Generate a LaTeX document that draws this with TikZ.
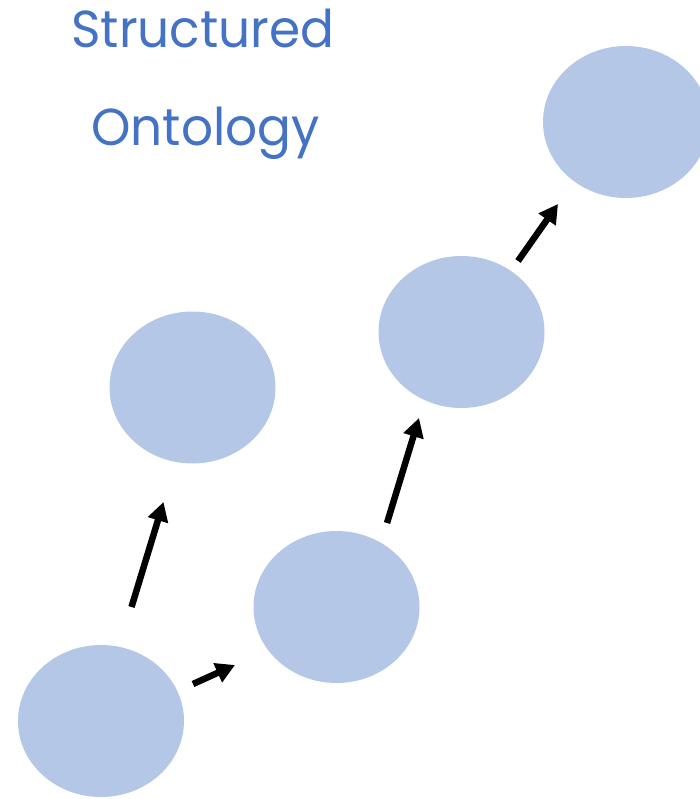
\documentclass[tikz,border=0pt]{standalone}
\usepackage{fontspec}
\setmainfont{Poppins}
\usetikzlibrary{arrows.meta,shapes.geometric}
\definecolor{bubble}{HTML}{B4C7E7}
\definecolor{titleblue}{HTML}{4472C4}
\tikzset{
  bubble/.style={ellipse, fill=bubble, draw=none, minimum width=166pt, minimum height=152pt, inner sep=0pt},
  flow/.style={line width=6.5pt, -{Triangle[length=19pt,width=20pt]}},
  title/.style={text=titleblue, font=\fontsize{52}{60}\selectfont, inner sep=0pt, anchor=base, xscale=0.965}
}
\begin{document}
\begin{tikzpicture}[x=1pt,y=-1pt]
\useasboundingbox (0,0) rectangle (700,799);
\node[bubble] (e1) at (101,721) {};
\node[bubble] (e2) at (192.5,387.5) {};
\node[bubble] (e3) at (336.5,607) {};
\node[bubble] (e4) at (461.5,332) {};
\node[bubble] (e5) at (626,122) {};
\node[title] (t1) at (203,48) {Structured};
\node[title] (t2) at (205.5,146) {Ontology};
\coordinate (a1s) at (131.5,607);
\coordinate (a1e) at (163.5,502);
\coordinate (a2s) at (193,684);
\coordinate (a2e) at (235,665);
\coordinate (a3s) at (387,523);
\coordinate (a3e) at (419,418);
\coordinate (a4s) at (518,261);
\coordinate (a4e) at (558,204);
\draw[flow] (a1s) -- (a1e);
\draw[flow] (a2s) -- (a2e);
\draw[flow] (a3s) -- (a3e);
\draw[flow] (a4s) -- (a4e);
\end{tikzpicture}
\end{document}
